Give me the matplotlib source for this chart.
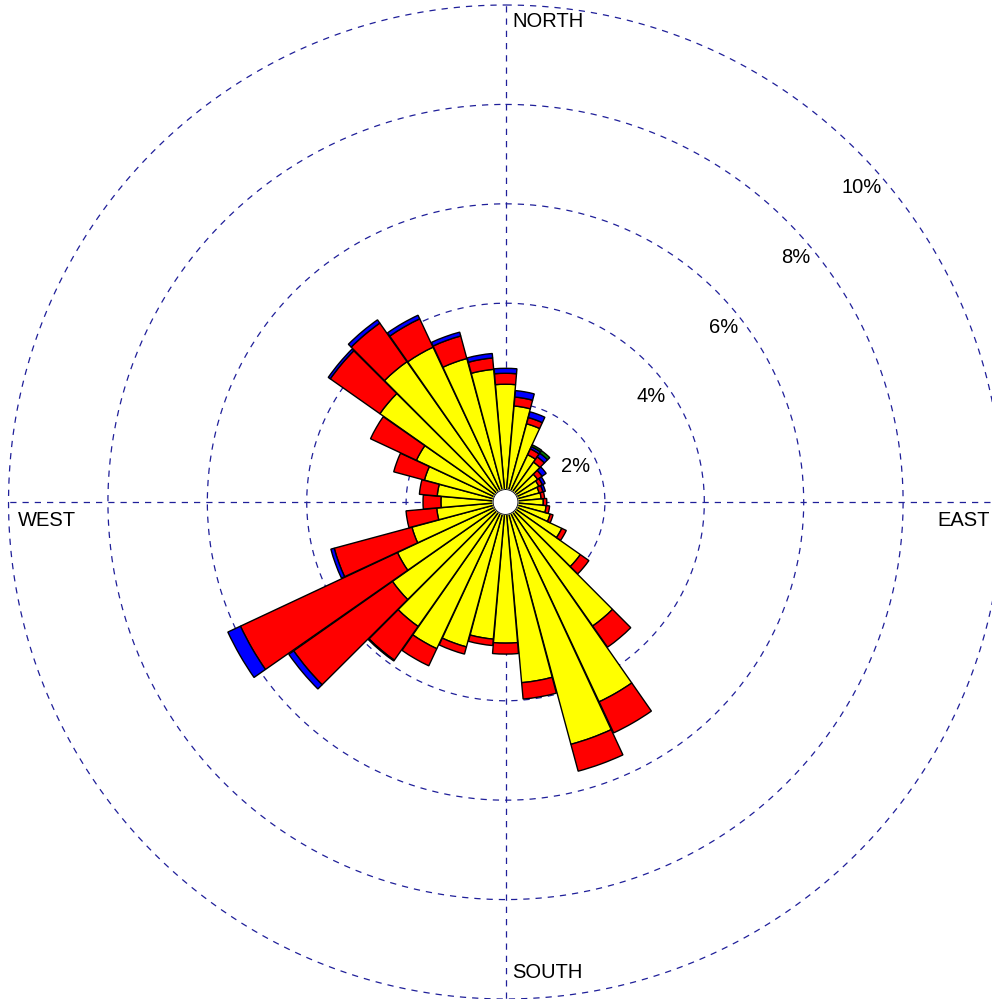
import numpy as np
import matplotlib.pyplot as plt

plt.rcParams['font.family'] = ['Liberation Sans', 'DejaVu Sans']

# 風向 (度, 北から時計回り)
directions = np.arange(0, 360, 10)

# 各風速階級の頻度 (%)
freq_yellow = [2.37, 1.94, 1.63, 1.05, 0.98, 0.79, 0.74, 0.70, 0.72,
               0.76, 0.82, 0.93, 1.25, 1.84, 3.05, 4.44, 5.05, 3.65,
               2.84, 2.77, 3.02, 3.26, 3.06, 2.78, 2.40, 1.95, 1.39,
               1.30, 1.38, 1.69, 1.98, 3.09, 3.45, 3.44, 2.99, 2.68]
freq_red = [0.22, 0.18, 0.13, 0.13, 0.13, 0.11, 0.08, 0.08, 0.07,
            0.07, 0.07, 0.06, 0.10, 0.21, 0.52, 0.69, 0.56, 0.33,
            0.22, 0.13, 0.15, 0.38, 0.83, 2.43, 3.49, 1.62, 0.62,
            0.36, 0.36, 0.64, 1.02, 1.22, 0.95, 0.63, 0.47, 0.23]
freq_blue = [0.10, 0.13, 0.12, 0.05, 0.09, 0.10, 0.06, 0.05, 0.0,
             0.0, 0.0, 0.0, 0.0, 0.0, 0.0, 0.0, 0.0, 0.0,
             0.0, 0.0, 0.0, 0.0, 0.02, 0.12, 0.28, 0.07, 0.0,
             0.0, 0.0, 0.0, 0.0, 0.05, 0.08, 0.08, 0.08, 0.09]
freq_green = [0.0, 0.0, 0.0, 0.04, 0.06, 0.0, 0.0, 0.0, 0.0,
              0.0, 0.0, 0.0, 0.0, 0.0, 0.0, 0.0, 0.0, 0.0,
              0.0, 0.0, 0.0, 0.0, 0.0, 0.0, 0.0, 0.0, 0.0,
              0.0, 0.0, 0.0, 0.0, 0.0, 0.0, 0.0, 0.0, 0.0]

ring_levels = [2, 4, 6, 8, 10]
rmax = 10

grid_color = '#1f1f99'
dash = (0, (5, 4.8))

fig = plt.figure(figsize=(9.92, 9.99), dpi=100)
ax = fig.add_axes([0.0086, 0.0, 1.002, 0.995], projection='polar')
ax.set_theta_zero_location('N')
ax.set_theta_direction(-1)
ax.set_ylim(0, rmax)
ax.set_axis_off()

# グリッド (破線の同心円と十字線)
t = np.linspace(0, 2 * np.pi, 400)
for lev in ring_levels:
    ax.plot(t, np.full_like(t, lev), color=grid_color, lw=0.9, ls=dash,
            zorder=1, clip_on=False)
for ang in [0, 90, 180, 270]:
    ax.plot([np.deg2rad(ang)] * 2, [0, rmax], color=grid_color, lw=0.9,
            ls=dash, zorder=1, clip_on=False)

# 積み上げ棒
theta = np.deg2rad(directions)
width = np.deg2rad(10) * 0.98
bottom = np.zeros(len(directions))
for vals, col in [(freq_yellow, '#ffff00'), (freq_red, '#ff0000'),
                  (freq_blue, '#0000ff'), (freq_green, '#007f00')]:
    vals = np.array(vals)
    mask = vals > 0
    ax.bar(theta[mask], vals[mask], width=width, bottom=bottom[mask],
           color=col, edgecolor='black', linewidth=1, zorder=2)
    bottom = bottom + vals

# 中心の白丸
ax.fill(t, np.full_like(t, 0.25), color='white', zorder=5)
ax.plot(t, np.full_like(t, 0.25), color='black', lw=0.6, zorder=6)


def polar_xy(dx, dy):
    # (東, 北) 方向の距離 -> (theta, r)
    return np.arctan2(dx, dy), np.hypot(dx, dy)


# リングのラベル
px = 49.7  # 1% あたりのピクセル
for lev in ring_levels:
    yoff = 35 * (lev - 1) / px
    xr = np.sqrt(lev ** 2 - yoff ** 2) - 0.17
    ax.text(*polar_xy(xr, yoff), f'{lev}%', ha='right', va='center',
            fontsize=14.5, zorder=7)

# 方位ラベル
ax.text(*polar_xy(0.13, 9.66), 'NORTH', ha='left', va='center', fontsize=14.5)
ax.text(*polar_xy(0.13, -9.46), 'SOUTH', ha='left', va='center', fontsize=14.5)
ax.text(*polar_xy(-9.81, -0.38), 'WEST', ha='left', va='center', fontsize=14.5)
ax.text(*polar_xy(8.68, -0.38), 'EAST', ha='left', va='center', fontsize=14.5)

fig.savefig('out.png', dpi=100)
